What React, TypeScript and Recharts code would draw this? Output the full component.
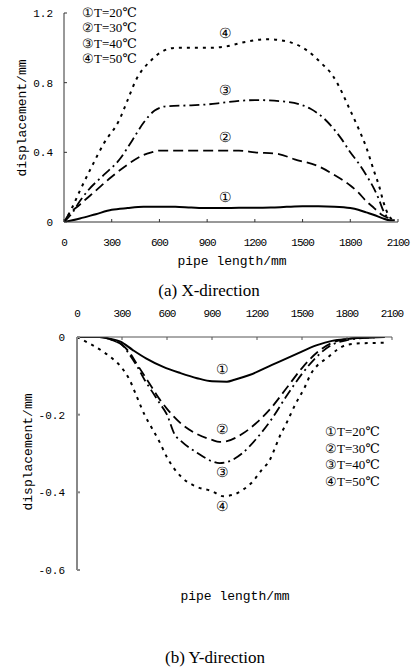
import React from "react";
import { LineChart, Line, XAxis, YAxis } from "recharts";

// ---------- (a) X-direction ----------
const xTicks = [0, 300, 600, 900, 1200, 1500, 1800, 2100];
const yTicksA = [0, 0.4, 0.8, 1.2];
const yTicksB = [-0.6, -0.4, -0.2, 0];
const legendLabels = ["①T=20℃", "②T=30℃", "③T=40℃", "④T=50℃"];
const curveMarks = ["①", "②", "③", "④"];

const xLenA20 = [0, 100, 200, 300, 400, 500, 600, 700, 800, 900, 1000, 1100, 1200, 1300, 1400, 1500, 1600, 1700, 1800, 1850, 1900, 1950, 2000, 2050, 2080];
const xDispA20 = [0, 0.02, 0.045, 0.07, 0.08, 0.087, 0.088, 0.087, 0.083, 0.08, 0.08, 0.082, 0.082, 0.083, 0.087, 0.09, 0.09, 0.088, 0.08, 0.07, 0.055, 0.04, 0.022, 0.01, 0.01];

const xLenA30 = [0, 20, 100, 200, 300, 400, 500, 550, 600, 700, 800, 900, 1000, 1100, 1200, 1350, 1450, 1600, 1700, 1800, 1850, 1900, 1950, 2000, 2050];
const xDispA30 = [0, 0.03, 0.1, 0.18, 0.26, 0.33, 0.385, 0.4, 0.41, 0.41, 0.41, 0.41, 0.41, 0.41, 0.4, 0.39, 0.36, 0.32, 0.27, 0.21, 0.17, 0.12, 0.08, 0.04, 0.02];

const xLenA40 = [0, 50, 100, 150, 250, 350, 430, 500, 570, 650, 800, 900, 1000, 1100, 1200, 1400, 1500, 1550, 1640, 1700, 1750, 1800, 1850, 1900, 1950, 1980, 2010, 2040];
const xDispA40 = [0, 0.05, 0.12, 0.18, 0.27, 0.36, 0.47, 0.57, 0.64, 0.665, 0.67, 0.675, 0.685, 0.695, 0.7, 0.69, 0.67, 0.65, 0.59, 0.53, 0.47, 0.4, 0.34, 0.27, 0.19, 0.13, 0.06, 0.02];

const xLenA50 = [0, 50, 100, 170, 250, 350, 400, 450, 550, 610, 700, 900, 1000, 1120, 1280, 1430, 1520, 1620, 1690, 1750, 1790, 1850, 1900, 1950, 1980, 2010, 2040, 2070];
const xDispA50 = [0, 0.08, 0.18, 0.31, 0.45, 0.59, 0.7, 0.81, 0.93, 0.975, 1.0, 1.0, 1.005, 1.03, 1.05, 1.03, 0.99, 0.91, 0.84, 0.74, 0.66, 0.54, 0.43, 0.29, 0.21, 0.11, 0.04, 0.01];

// ---------- (b) Y-direction ----------
const yLenB20 = [0, 150, 200, 290, 370, 460, 575, 690, 800, 900, 1000, 1050, 1150, 1300, 1450, 1600, 1700, 1800, 1900, 2050];
const yDispB20 = [0, 0, -0.003, -0.012, -0.033, -0.055, -0.077, -0.093, -0.106, -0.114, -0.115, -0.11, -0.098, -0.072, -0.046, -0.021, -0.01, -0.005, -0.002, 0];

const yLenB30 = [0, 150, 250, 300, 350, 400, 450, 500, 550, 600, 700, 800, 900, 950, 1000, 1100, 1200, 1300, 1400, 1500, 1600, 1700, 1800, 1900, 2050];
const yDispB30 = [0, 0, -0.01, -0.02, -0.04, -0.07, -0.1, -0.13, -0.16, -0.185, -0.225, -0.25, -0.265, -0.27, -0.268, -0.25, -0.22, -0.18, -0.13, -0.08, -0.04, -0.015, -0.005, -0.002, 0];

const yLenB40 = [0, 150, 250, 300, 350, 400, 450, 500, 550, 600, 650, 700, 800, 900, 950, 1000, 1100, 1200, 1300, 1400, 1500, 1600, 1700, 1800, 1900, 2050];
const yDispB40 = [0, 0, -0.01, -0.02, -0.045, -0.075, -0.11, -0.14, -0.17, -0.2, -0.25, -0.27, -0.298, -0.32, -0.325, -0.322, -0.3, -0.26, -0.21, -0.15, -0.095, -0.05, -0.02, -0.008, -0.003, 0];

const yLenB50 = [0, 50, 100, 175, 250, 300, 350, 400, 450, 500, 550, 600, 650, 700, 800, 900, 975, 1050, 1100, 1170, 1230, 1285, 1320, 1350, 1390, 1460, 1520, 1555, 1605, 1665, 1730, 1800, 1900, 2050];
const yDispB50 = [0, -0.01, -0.02, -0.038, -0.06, -0.08, -0.11, -0.155, -0.2, -0.235, -0.27, -0.31, -0.34, -0.362, -0.386, -0.397, -0.41, -0.405, -0.395, -0.373, -0.343, -0.317, -0.286, -0.257, -0.227, -0.17, -0.128, -0.098, -0.072, -0.055, -0.034, -0.02, -0.016, -0.015];

const zip = (xs: number[], ys: number[]) => xs.map((x, i) => ({ len: x, d: ys[i] }));

const seriesA = [zip(xLenA20, xDispA20), zip(xLenA30, xDispA30), zip(xLenA40, xDispA40), zip(xLenA50, xDispA50)];
const seriesB = [zip(yLenB20, yDispB20), zip(yLenB30, yDispB30), zip(yLenB40, yDispB40), zip(yLenB50, yDispB50)];

const dashes = [undefined, "10 5", "10 4 2 4", "3 5"];
const widths = [2, 1.8, 1.8, 2];

const mono = "'Liberation Mono', 'DejaVu Sans Mono', monospace";
const serif = "'Liberation Serif', 'DejaVu Serif', serif";

const abs = (left: number, top: number, extra: React.CSSProperties = {}): React.CSSProperties => ({
  position: "absolute",
  left,
  top,
  lineHeight: 1,
  whiteSpace: "nowrap",
  color: "#000",
  ...extra,
});

const Centered: React.FC<{ cx: number; cy: number; style?: React.CSSProperties; children: React.ReactNode }> = ({ cx, cy, style, children }) => (
  <div style={abs(cx, cy, { transform: "translate(-50%, -50%)", ...style })}>{children}</div>
);

const tickStyle = { fontFamily: mono, fontSize: 11, fill: "#000" };

export default function App() {
  return (
    <div style={{ position: "absolute", left: 0, top: 0, width: 419, height: 670, background: "#fff", overflow: "hidden" }}>
      {/* Chart (a) */}
      <div style={{ position: "absolute", left: 0, top: 0 }}>
        <LineChart width={419} height={280} margin={{ top: 13, right: 21, bottom: 28, left: 0 }}>
          <XAxis
            type="number"
            dataKey="len"
            domain={[0, 2100]}
            ticks={xTicks}
            allowDataOverflow
            height={30}
            tickSize={-3}
            tickMargin={19}
            stroke="#333"
            tick={{ ...tickStyle, letterSpacing: -1 }}
            interval={0}
          />
          <YAxis
            type="number"
            dataKey="d"
            domain={[0, 1.2]}
            ticks={yTicksA}
            allowDataOverflow
            width={64}
            tickSize={-3}
            tickMargin={14}
            stroke="#333"
            tick={tickStyle}
            interval={0}
          />
          {seriesA.map((s, i) => (
            <Line
              key={i}
              data={s}
              dataKey="d"
              type="monotone"
              stroke="#000"
              strokeWidth={widths[i]}
              strokeDasharray={dashes[i]}
              dot={false}
              isAnimationActive={false}
            />
          ))}
        </LineChart>
      </div>

      {/* Chart (b) */}
      <div style={{ position: "absolute", left: 0, top: 300 }}>
        <LineChart width={419} height={290} margin={{ top: 7, right: 27, bottom: 20, left: 0 }}>
          <XAxis
            type="number"
            dataKey="len"
            orientation="top"
            domain={[0, 2100]}
            ticks={xTicks}
            allowDataOverflow
            height={30}
            tickSize={-3}
            tickMargin={23}
            stroke="#555"
            tick={{ ...tickStyle, letterSpacing: -1 }}
            interval={0}
          />
          <YAxis
            type="number"
            dataKey="d"
            domain={[-0.6, 0]}
            ticks={yTicksB}
            allowDataOverflow
            width={77}
            tickSize={-3}
            tickMargin={15}
            stroke="#888"
            strokeWidth={2}
            tick={tickStyle}
            interval={0}
          />
          {seriesB.map((s, i) => (
            <Line
              key={i}
              data={s}
              dataKey="d"
              type="monotone"
              stroke="#000"
              strokeWidth={widths[i]}
              strokeDasharray={dashes[i]}
              dot={false}
              isAnimationActive={false}
            />
          ))}
        </LineChart>
      </div>

      {/* Axis titles */}
      <Centered cx={22} cy={118} style={{ fontFamily: mono, fontSize: 13, transform: "translate(-50%, -50%) rotate(-90deg)" }}>
        displacement/mm
      </Centered>
      <Centered cx={232} cy={261} style={{ fontFamily: mono, fontSize: 13 }}>
        pipe length/mm
      </Centered>
      <Centered cx={28} cy={452} style={{ fontFamily: mono, fontSize: 13, transform: "translate(-50%, -50%) rotate(-90deg)" }}>
        displacement/mm
      </Centered>
      <Centered cx={235} cy={596} style={{ fontFamily: mono, fontSize: 13 }}>
        pipe length/mm
      </Centered>

      {/* Captions */}
      <Centered cx={209} cy={290} style={{ fontFamily: serif, fontSize: 17 }}>
        (a) X-direction
      </Centered>
      <Centered cx={215} cy={657} style={{ fontFamily: serif, fontSize: 17 }}>
        (b) Y-direction
      </Centered>

      {/* Legend (a) */}
      {legendLabels.map((t, i) => (
        <div key={"la" + i} style={abs(82, 6 + i * 15.3, { fontFamily: serif, fontSize: 13 })}>
          {t}
        </div>
      ))}
      {/* Legend (b) */}
      {legendLabels.map((t, i) => (
        <div key={"lb" + i} style={abs(325, 425 + i * 16.7, { fontFamily: serif, fontSize: 13 })}>
          {t}
        </div>
      ))}

      {/* Curve marks (a) */}
      {[198, 138, 91, 34].map((cy, i) => (
        <Centered key={"ma" + i} cx={225} cy={cy} style={{ fontFamily: serif, fontSize: 14 }}>
          {curveMarks[i]}
        </Centered>
      ))}
      {/* Curve marks (b) */}
      {[370, 430, 473, 507].map((cy, i) => (
        <Centered key={"mb" + i} cx={222} cy={cy} style={{ fontFamily: serif, fontSize: 14 }}>
          {curveMarks[i]}
        </Centered>
      ))}
    </div>
  );
}
